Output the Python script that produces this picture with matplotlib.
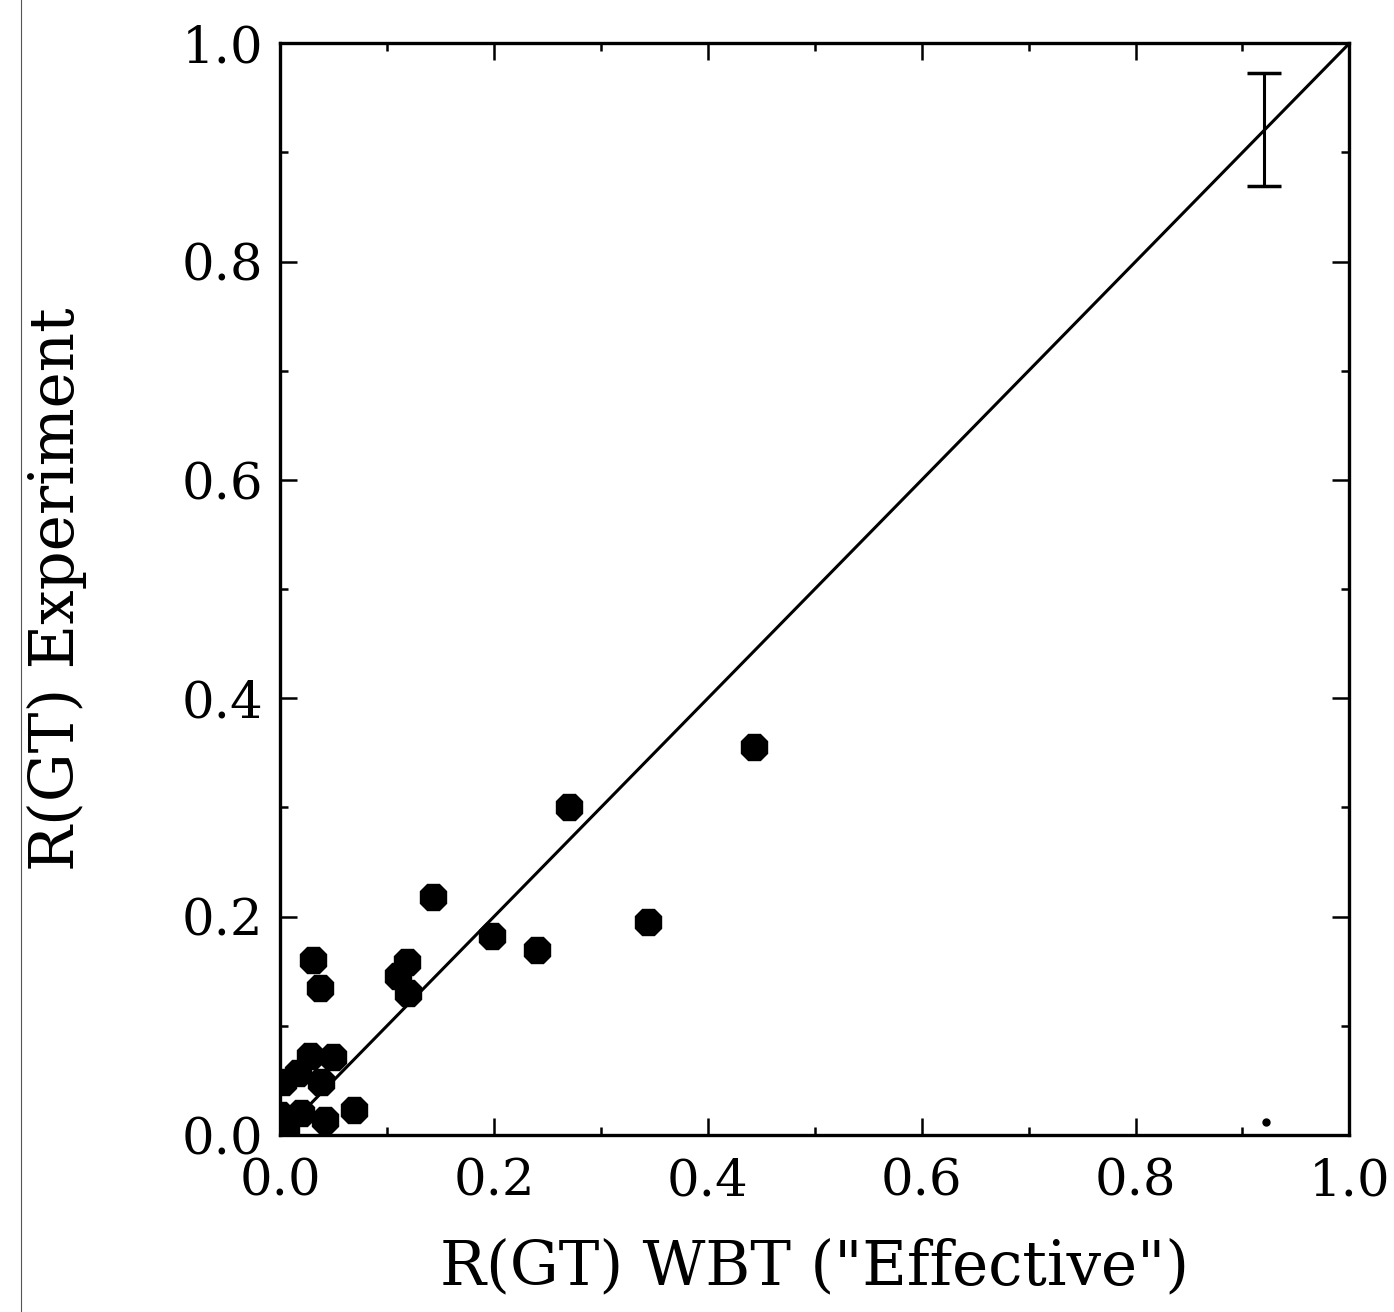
import numpy as np
import matplotlib.pyplot as plt
from matplotlib.lines import Line2D
from matplotlib.ticker import MultipleLocator

# R(GT) values: WBT "effective" (x) vs experiment (y)
wbt = [0.443, 0.270, 0.143, 0.198, 0.240, 0.344,
       0.119, 0.110, 0.120, 0.031, 0.037,
       0.003, 0.028, 0.049, 0.038, 0.000, 0.005,
       0.042, 0.069, 0.019, 0.017]
experiment = [0.355, 0.300, 0.218, 0.182, 0.169, 0.195,
              0.158, 0.146, 0.130, 0.160, 0.135,
              0.048, 0.072, 0.071, 0.048, 0.018, 0.002,
              0.014, 0.023, 0.020, 0.057]

# representative error bar in upper right
err_x = 0.92
err_y = 0.921
err_half = 0.052

# stray dot near lower right
stray_x = [0.922]
stray_y = [0.012]

diag = [0.0, 1.0]

plt.rcParams['font.family'] = ['DejaVu Serif']

fig = plt.figure(figsize=(13.94, 13.12), dpi=100)
ax = fig.add_axes([0.201, 0.135, 0.767, 0.832])

ax.plot(diag, diag, color='black', lw=2.2, zorder=2)
ax.plot(wbt, experiment, linestyle='none', marker='8', markersize=21,
        color='black', zorder=3)
ax.errorbar([err_x], [err_y], yerr=[err_half], fmt='none', ecolor='black',
            elinewidth=2.2, capsize=12, capthick=2.5)
ax.plot(stray_x, stray_y, linestyle='none', marker='o', markersize=5,
        color='black')

ax.set_xlim(0, 1)
ax.set_ylim(0, 1)
ax.xaxis.set_major_locator(MultipleLocator(0.2))
ax.yaxis.set_major_locator(MultipleLocator(0.2))
ax.xaxis.set_minor_locator(MultipleLocator(0.1))
ax.yaxis.set_minor_locator(MultipleLocator(0.1))
ax.xaxis.set_major_formatter(plt.FormatStrFormatter('%.1f'))
ax.yaxis.set_major_formatter(plt.FormatStrFormatter('%.1f'))
ax.tick_params(which='both', direction='in', top=True, right=True,
               width=1.8, labelsize=37)
ax.tick_params(axis='x', pad=16)
ax.tick_params(axis='y', pad=12)
ax.tick_params(which='major', length=12)
ax.tick_params(which='minor', length=6)
for s in ax.spines.values():
    s.set_linewidth(2.4)

ax.set_xlabel('R(GT) WBT ("Effective")', fontsize=44, labelpad=22)
ax.set_ylabel('R(GT) Experiment', fontsize=44, labelpad=68)

# scan edge line on the left
fig.add_artist(Line2D([0.015, 0.015], [0, 1], transform=fig.transFigure,
                      color='#555555', lw=0.8))

fig.savefig('out.png', dpi=100)
